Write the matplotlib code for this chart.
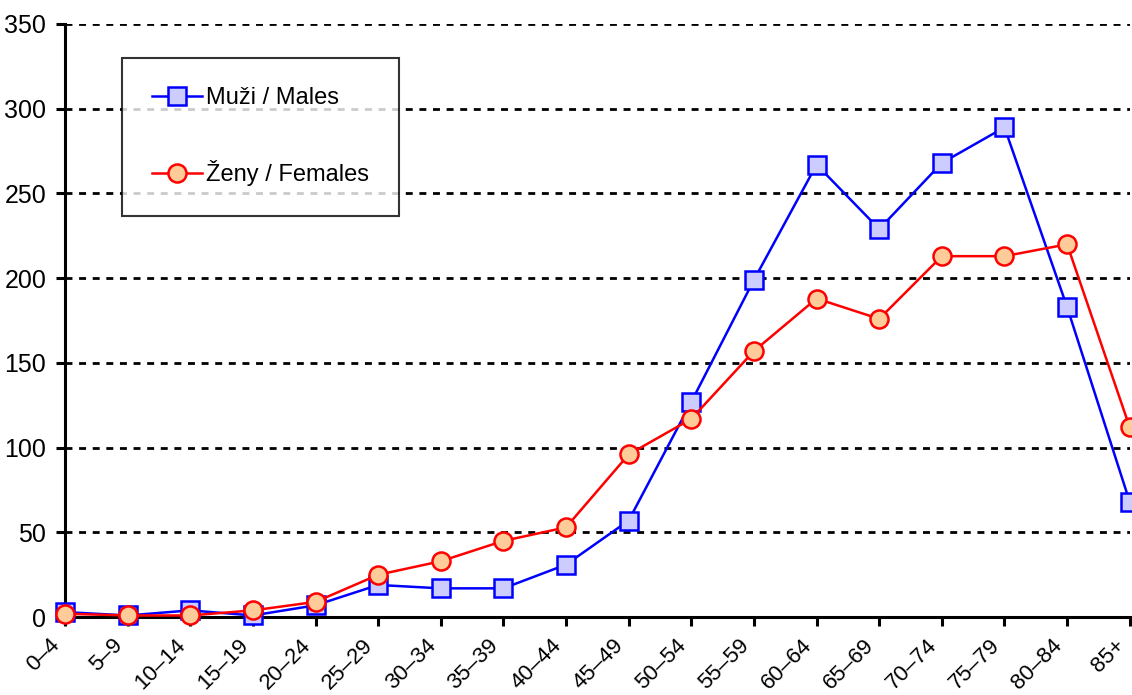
import matplotlib.pyplot as plt
from matplotlib.transforms import ScaledTranslation

plt.rcParams['font.family'] = ['Liberation Sans', 'DejaVu Sans']
fs = 18

# Věkové skupiny
vek = ['0–4', '5–9', '10–14', '15–19', '20–24', '25–29', '30–34', '35–39',
       '40–44', '45–49', '50–54', '55–59', '60–64', '65–69', '70–74',
       '75–79', '80–84', '85+']

muzi = [3, 1, 4, 1, 7, 19, 17, 17, 31, 57, 127, 199, 267, 229, 268, 289, 183, 68]
zeny = [2, 1, 1, 4, 9, 25, 33, 45, 53, 96, 117, 157, 188, 176, 213, 213, 220, 112]

fig = plt.figure(figsize=(11.32, 6.95), dpi=100)
ax = fig.add_axes([0.0574, 0.112, 0.9406, 0.8535])

x = list(range(len(vek)))

ax.plot(x, muzi, '-s', color='#0000ff', linewidth=1.8, markersize=13,
        markerfacecolor='#ccccff', markeredgecolor='#0000ff',
        markeredgewidth=1.8, label='Muži / Males', clip_on=False, zorder=3)
ax.plot(x, zeny, '-o', color='#ff0000', linewidth=1.8, markersize=13,
        markerfacecolor='#ffcc99', markeredgecolor='#ff0000',
        markeredgewidth=1.8, label='Ženy / Females', clip_on=False, zorder=4)

ax.set_xlim(0, len(vek) - 1)
ax.set_ylim(0, 350)
ax.set_yticks(range(0, 351, 50))
ax.set_xticks(x)
ax.set_xticklabels([])

# popisky osy x - otočené, konec textu vlevo pod značkou
posun = ScaledTranslation(-8 / 100, -25 / 100, fig.dpi_scale_trans)
for i, v in enumerate(vek):
    ax.text(i, 0, v, transform=ax.get_xaxis_transform() + posun,
            rotation=45, ha='right', va='center', rotation_mode='anchor',
            fontsize=16)

# Tečkovaná mřížka
ax.yaxis.grid(True, color='black', linestyle=(0, (2.5, 2.4)), linewidth=2)
ax.set_axisbelow(True)

for s in ['top', 'right']:
    ax.spines[s].set_visible(False)
for s in ['left', 'bottom']:
    ax.spines[s].set_linewidth(2.2)

ax.tick_params(axis='both', labelsize=fs, width=2.2, length=6.5, direction='out')
ax.tick_params(axis='y', pad=7)

leg = ax.legend(loc='upper left', bbox_to_anchor=(0.054, 0.943), fontsize=17,
                frameon=True, fancybox=False, edgecolor='black',
                labelspacing=2.15, borderpad=1.25, handlelength=2.1,
                handletextpad=0.2, borderaxespad=0)
leg.get_frame().set_linewidth(1.5)

plt.savefig('out.png', dpi=100)
